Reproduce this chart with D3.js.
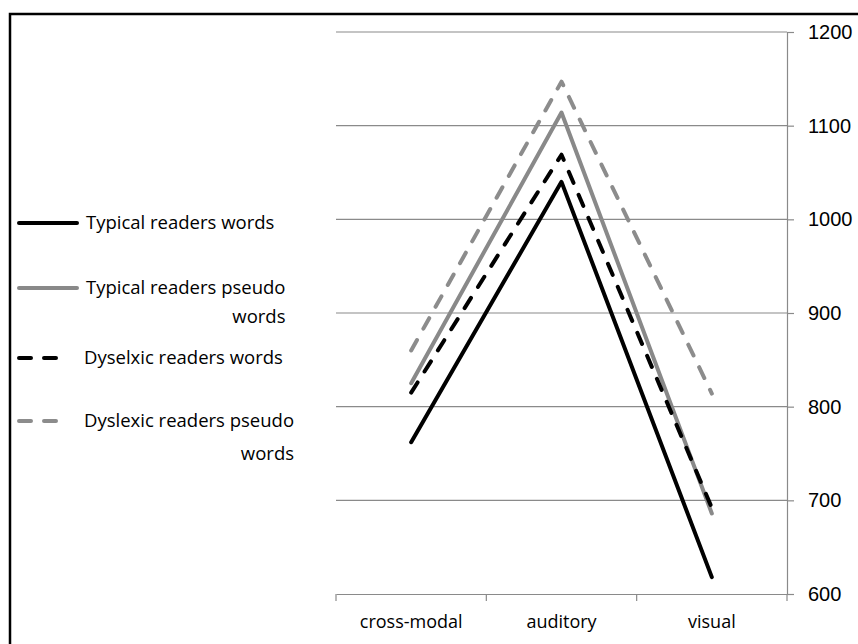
<!DOCTYPE html>
<html>
<head>
<meta charset="utf-8">
<script src="https://cdn.jsdelivr.net/npm/d3@7"></script>
<style>
  body { margin: 0; background: #fff; }
  svg { display: block; }
</style>
</head>
<body>
<svg></svg>
<script>
var vWidth = 858;
var vHeight = 644;

// data
var categories = ["cross-modal", "auditory", "visual"];
var typicalWords = [762, 1040, 618];
var typicalPseudo = [825, 1114, 686];
var dyslexicWords = [815, 1069, 692];
var dyslexicPseudo = [860, 1147, 814];
var yTicks = [600, 700, 800, 900, 1000, 1100, 1200];

var seriesNames = [
  ["Typical readers words"],
  ["Typical readers pseudo", "words"],
  ["Dyselxic readers words"],
  ["Dyslexic readers pseudo", "words"]
];
var seriesValues = [typicalWords, typicalPseudo, dyslexicWords, dyslexicPseudo];
var seriesColor = ["#000000", "#898989", "#000000", "#8c8c8c"];
var seriesDash = [null, null, "12,13", "12,13"];

var svg = d3.select("svg")
    .attr("width", vWidth)
    .attr("height", vHeight);

// outer frame
svg.append("rect")
    .attr("x", 10).attr("y", 14)
    .attr("width", vWidth).attr("height", vHeight)
    .attr("fill", "none")
    .attr("stroke", "#000")
    .attr("stroke-width", 2.5);

var x = d3.scaleBand()
    .domain(categories)
    .range([336, 787]);

var y = d3.scaleLinear()
    .domain([600, 1200])
    .range([594, 32]);

var grid = svg.append("g");

// gridlines
grid.selectAll("line.grid")
    .data(yTicks.slice(1))
    .enter().append("line")
    .attr("class", "grid")
    .attr("x1", 336).attr("x2", 787)
    .attr("y1", function (d) { return y(d); })
    .attr("y2", function (d) { return y(d); })
    .attr("stroke", "#8a8a8a")
    .attr("stroke-width", 1.2);

// right axis
var yAxis = svg.append("g")
    .attr("transform", "translate(787,0)")
    .call(d3.axisRight(y).tickValues(yTicks).tickFormat(d3.format("d"))
      .tickSize(7).tickSizeOuter(0).tickPadding(14));
yAxis.select(".domain").attr("stroke", "#8a8a8a").attr("stroke-width", 1.2);
yAxis.selectAll(".tick line").attr("stroke", "#8a8a8a").attr("stroke-width", 1.2);
yAxis.selectAll("text")
    .attr("font-family", "'Liberation Sans', Arial, sans-serif")
    .attr("font-size", 20)
    .attr("fill", "#000");

// bottom axis
var xAxis = svg.append("g")
    .attr("transform", "translate(0,594)")
    .call(d3.axisBottom(x).tickSize(0).tickPadding(21));
xAxis.select(".domain").attr("stroke", "#8a8a8a").attr("stroke-width", 1.2);
xAxis.selectAll("text")
    .attr("font-family", "'Open Sans', sans-serif")
    .attr("font-size", 18)
    .attr("fill", "#000");
// tick marks between categories
var edges = categories.map(function (c) { return x(c); }).concat([x.range()[1]]);
xAxis.selectAll("line.edge")
    .data(edges)
    .enter().append("line")
    .attr("class", "edge")
    .attr("x1", function (d) { return d; })
    .attr("x2", function (d) { return d; })
    .attr("y1", 0).attr("y2", 7)
    .attr("stroke", "#8a8a8a")
    .attr("stroke-width", 1.2);

// lines
var line = d3.line()
    .x(function (d, i) { return x(categories[i]) + x.bandwidth() / 2; })
    .y(function (d) { return y(d); });

var order = [0, 1, 2, 3];
svg.selectAll("path.series")
    .data(order)
    .enter().append("path")
    .attr("class", "series")
    .attr("d", function (i) { return line(seriesValues[i]); })
    .attr("fill", "none")
    .attr("stroke", function (i) { return seriesColor[i]; })
    .attr("stroke-width", 4)
    .attr("stroke-linecap", "round")
    .attr("stroke-linejoin", "round")
    .attr("stroke-dasharray", function (i) { return seriesDash[i]; });

// legend
var legendY = [223, 288, 358, 421];
var legend = svg.selectAll("g.legend")
    .data(order)
    .enter().append("g")
    .attr("class", "legend")
    .attr("transform", function (i) { return "translate(0," + legendY[i] + ")"; });

legend.append("line")
    .attr("x1", 19)
    .attr("x2", function (i) { return seriesDash[i] ? 63 : 77; })
    .attr("y1", 0).attr("y2", 0)
    .attr("stroke", function (i) { return seriesColor[i]; })
    .attr("stroke-width", 4)
    .attr("stroke-linecap", "round")
    .attr("stroke-dasharray", function (i) { return seriesDash[i]; });

legend.each(function (i) {
  var g = d3.select(this);
  var tx = seriesDash[i] ? 84 : 86;
  var first = g.append("text")
      .attr("x", tx)
      .attr("y", 0)
      .attr("dy", "0.35em")
      .attr("font-family", "'Open Sans', sans-serif")
      .attr("font-size", 18.5)
      .text(seriesNames[i][0]);
  if (seriesNames[i].length > 1) {
    var w = first.node().getComputedTextLength();
    g.append("text")
        .attr("x", tx + w)
        .attr("y", i == 1 ? 29 : 33)
        .attr("dy", "0.35em")
        .attr("text-anchor", "end")
        .attr("font-family", "'Open Sans', sans-serif")
        .attr("font-size", 18.5)
        .text(seriesNames[i][1]);
  }
});
</script>
</body>
</html>
